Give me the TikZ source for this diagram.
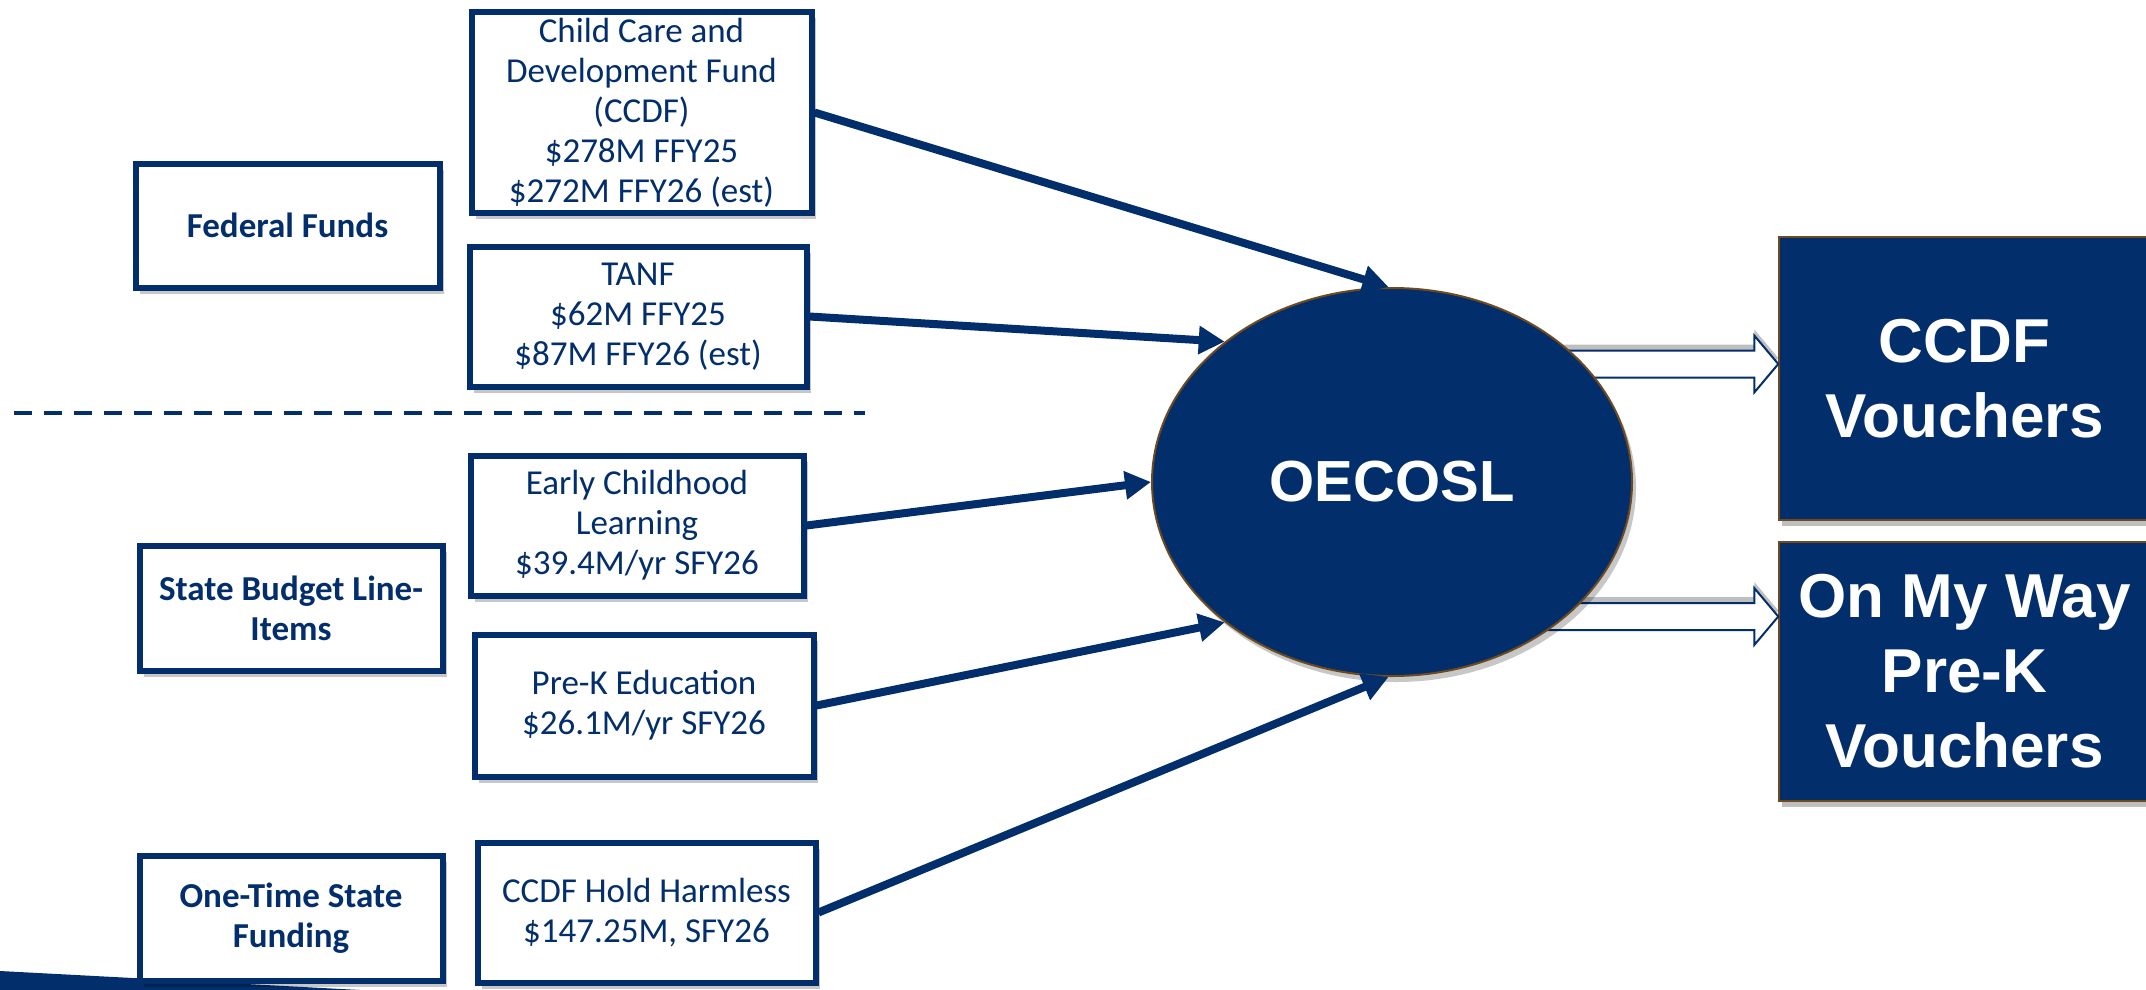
\documentclass[tikz,border=0pt]{standalone}
\usepackage{fontspec}
\setmainfont{Carlito}
\newfontfamily\arialf{Liberation Sans}
\usetikzlibrary{shapes.geometric,arrows.meta,shadows,calc}
\definecolor{navy}{HTML}{022E6B}
\definecolor{edgebrown}{HTML}{6E4A1E}
\begin{document}
\begin{tikzpicture}[x=1pt,y=-1pt,
  src/.style={draw=navy, line width=6pt, fill=white, text=navy, align=center,
    font=\fontsize{35}{40}\selectfont, inner sep=0pt,
    drop shadow={shadow xshift=4pt, shadow yshift=-6pt, opacity=0.22, fill=black}},
  cat/.style={src, font=\bfseries\fontsize{35}{40}\selectfont},
  outbox/.style={fill=navy, draw=edgebrown, line width=1.5pt, text=white, align=center,
    font=\arialf\bfseries\fontsize{62}{75}\selectfont, inner sep=0pt,
    drop shadow={shadow xshift=3pt, shadow yshift=-6pt, opacity=0.25, fill=black}},
  arr/.style={draw=navy, line width=8pt, -{Triangle[length=26pt,width=27pt]}},
  blockarr/.style={fill=white, draw=navy, line width=2pt,
    drop shadow={shadow xshift=0pt, shadow yshift=6pt, opacity=0.25, fill=black}},
]
\useasboundingbox (0,0) rectangle (2146,990);

% bottom-left wedge
\fill[navy] (0,971) -- (360,990) -- (0,990) -- cycle;

% dashed separator
\coordinate (dl) at (14,413);
\coordinate (dr) at (865,413);
\draw[navy, line width=4.5pt, dash pattern=on 18pt off 12pt] (dl) -- (dr);

% category boxes
\node[cat, minimum width=304, minimum height=124] (fed) at (287.5,225.5) {Federal Funds};
\node[cat, minimum width=303, minimum height=125] (sbl) at (291,608) {State Budget Line-\\Items};
\node[cat, minimum width=303, minimum height=125] (one) at (291,918) {One-Time State\\Funding};

% source boxes
\node[src, minimum width=340, minimum height=200] (ccdf) at (641.5,112.5)
  {Child Care and\\Development Fund\\(CCDF)\\\$278M FFY25\\\$272M FFY26 (est)};
\node[src, minimum width=337, minimum height=140] (tanf) at (638,316.5)
  {TANF\\\$62M FFY25\\\$87M FFY26 (est)};
\node[src, minimum width=333, minimum height=140] (ecl) at (637,525.5)
  {Early Childhood\\Learning\\\$39.4M/yr SFY26};
\node[src, minimum width=339, minimum height=142] (prek) at (644,705.5)
  {Pre-K Education\\\$26.1M/yr SFY26};
\node[src, minimum width=338, minimum height=140] (hold) at (646.5,912.5)
  {CCDF Hold Harmless\\\$147.25M, SFY26};

% output boxes
\node[outbox, minimum width=371, minimum height=283] (ccdfv) at (1964.5,378.5) {CCDF\\Vouchers};
\node[outbox, minimum width=371, minimum height=259] (omw) at (1964.5,671.5) {On My Way\\Pre-K\\Vouchers};

% block arrows
\path (ccdfv.west) ++(0,-14.5) coordinate (t1);
\path (omw.west) ++(0,-55) coordinate (t2);
\draw[blockarr] (t1) -- ++(-24,-28.5) -- ++(0,15) -- ++(-260,0) -- ++(0,27) -- ++(260,0) -- ++(0,15) -- cycle;
\draw[blockarr] (t2) -- ++(-24,-28.5) -- ++(0,15) -- ++(-260,0) -- ++(0,27) -- ++(260,0) -- ++(0,15) -- cycle;

% central ellipse
\node[ellipse, fill=navy, draw=edgebrown, line width=2pt, minimum width=480, minimum height=388,
  inner sep=0pt, text=white, font=\arialf\bfseries\fontsize{58}{70}\selectfont,
  drop shadow={shadow xshift=4pt, shadow yshift=-6pt, opacity=0.22, fill=black}] (oec) at (1392,482) {OECOSL};

% input arrows
\draw[arr] (ccdf.east) -- (oec.91);
\draw[arr] (tanf.east) -- (oec.140);
\draw[arr] (ecl.east) -- (oec.180);
\draw[arr] (prek.east) -- (oec.220);
\draw[arr] (hold.east) -- (oec.269);
\end{tikzpicture}
\end{document}
